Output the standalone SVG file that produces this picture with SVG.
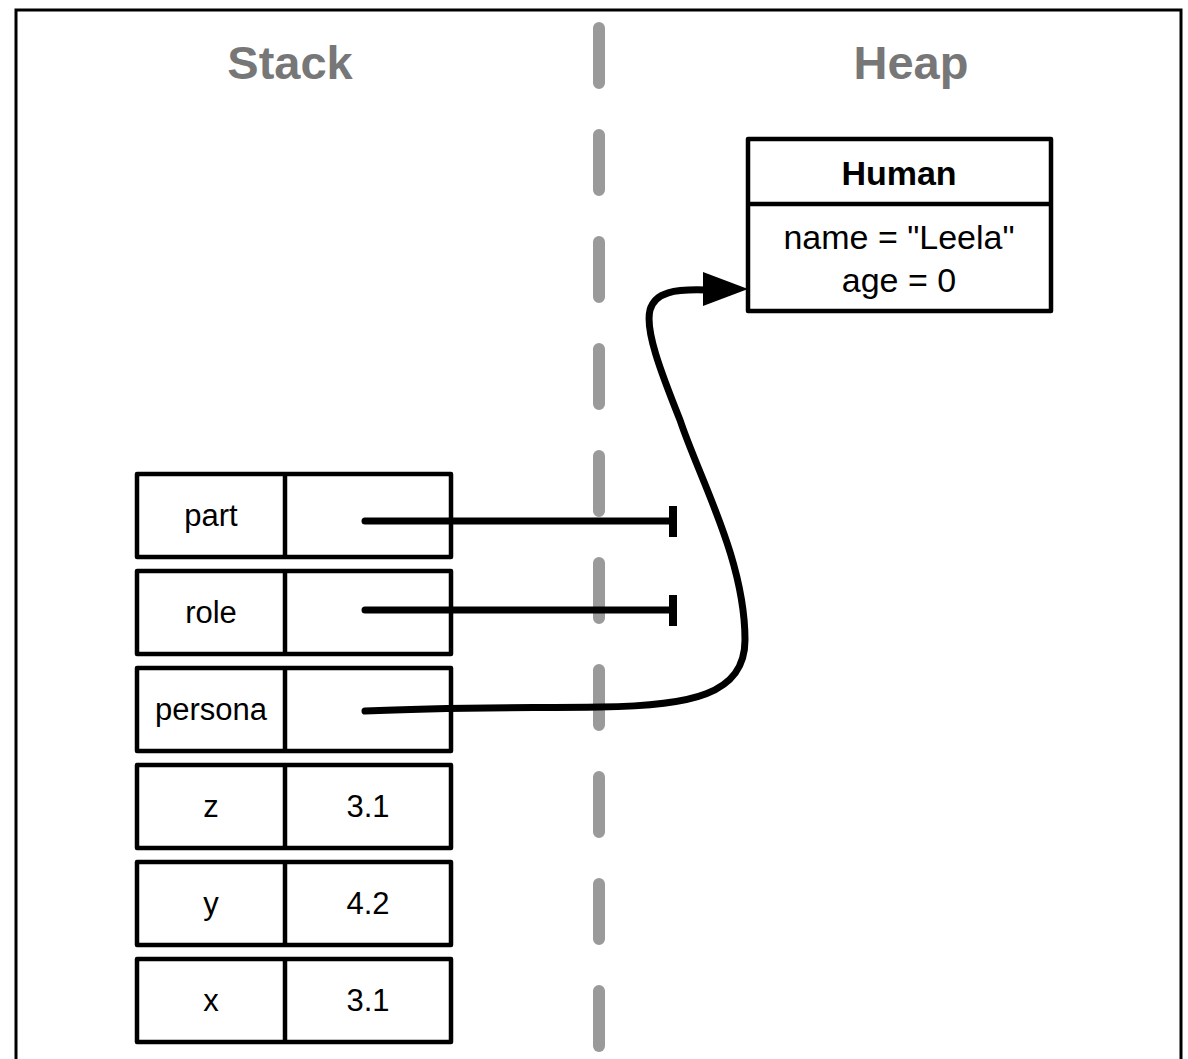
<svg xmlns="http://www.w3.org/2000/svg" width="1188" height="1059" viewBox="0 0 1188 1059">
<style>
.title{font-family:"Liberation Sans",Arial,sans-serif;font-weight:bold;font-size:47px;fill:#777;text-anchor:middle}
.lbl{font-family:"Liberation Sans",Arial,sans-serif;font-size:31px;fill:#000;text-anchor:middle}
.hl{font-family:"Liberation Sans",Arial,sans-serif;font-size:34px;fill:#000;text-anchor:middle}
.box{fill:#fff;stroke:#000;stroke-width:4.5;stroke-linejoin:round}
.div{stroke:#000;stroke-width:4.5}
.wire{fill:none;stroke:#000;stroke-width:7;stroke-linecap:round}
.bar{stroke:#000;stroke-width:8}
</style>
<rect x="16" y="10" width="1165" height="1065" fill="#fff" stroke="#000" stroke-width="3"/>
<text class="title" x="290" y="79">Stack</text>
<text class="title" x="911" y="79">Heap</text>
<line x1="599" y1="28" x2="599" y2="1060" stroke="#9a9a9a" stroke-width="12" stroke-linecap="round" stroke-dasharray="55 52"/>
<g id="human">
<rect class="box" x="748" y="139" width="303" height="172"/>
<line class="div" x1="748" y1="204" x2="1051" y2="204"/>
<text class="hl" x="899" y="185" font-weight="bold">Human</text>
<text class="hl" x="899" y="249">name = "Leela"</text>
<text class="hl" x="899" y="292">age = 0</text>
</g>
<g id="part"><rect class="box" x="137" y="474" width="314" height="83"/><line class="div" x1="285" y1="474" x2="285" y2="557"/><text class="lbl" x="211" y="526">part</text></g>
<g id="role"><rect class="box" x="137" y="571" width="314" height="83"/><line class="div" x1="285" y1="571" x2="285" y2="654"/><text class="lbl" x="211" y="623">role</text></g>
<g id="persona"><rect class="box" x="137" y="668" width="314" height="83"/><line class="div" x1="285" y1="668" x2="285" y2="751"/><text class="lbl" x="211" y="720">persona</text></g>
<g id="z"><rect class="box" x="137" y="765" width="314" height="83"/><line class="div" x1="285" y1="765" x2="285" y2="848"/><text class="lbl" x="211" y="817">z</text><text class="lbl" x="368" y="817">3.1</text></g>
<g id="y"><rect class="box" x="137" y="862" width="314" height="83"/><line class="div" x1="285" y1="862" x2="285" y2="945"/><text class="lbl" x="211" y="914">y</text><text class="lbl" x="368" y="914">4.2</text></g>
<g id="x"><rect class="box" x="137" y="959" width="314" height="83"/><line class="div" x1="285" y1="959" x2="285" y2="1042"/><text class="lbl" x="211" y="1011">x</text><text class="lbl" x="368" y="1011">3.1</text></g>
<g id="connectors">
<line class="wire" x1="365" y1="521" x2="672" y2="521"/>
<line class="bar" x1="673" y1="506" x2="673" y2="537"/>
<line class="wire" x1="365" y1="610" x2="672" y2="610"/>
<line class="bar" x1="673" y1="595" x2="673" y2="626"/>
<path class="wire" d="M365 711 C450 707 520 708 600 707 C690 706 745 695 745 640 C745 560 700 480 680 420 C660 370 645 330 650 310 C655 292 675 289 706 290"/>
<polygon points="703,272 748,289 703,306" fill="#000"/>
</g>
</svg>
